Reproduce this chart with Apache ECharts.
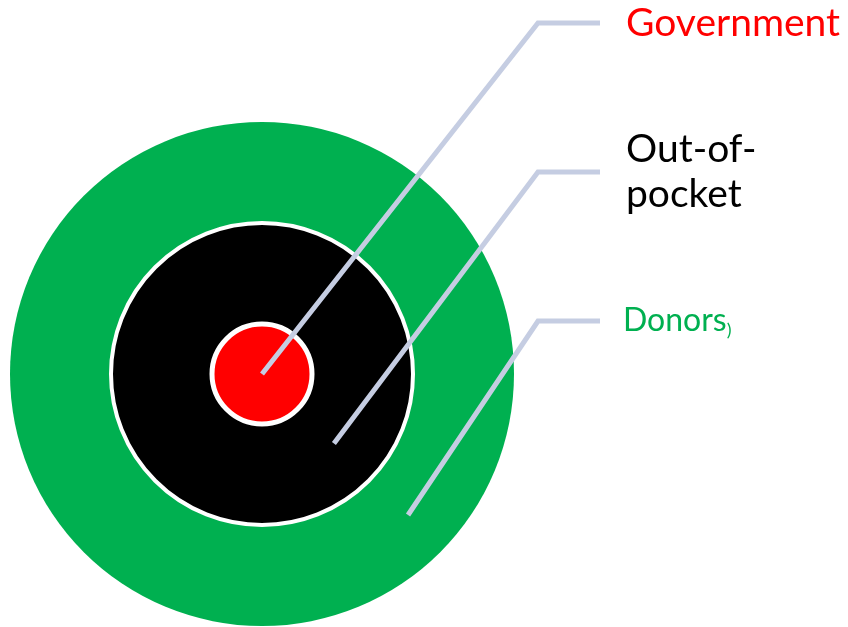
<!DOCTYPE html>
<html>
<head>
<meta charset="utf-8">
<title>Sources of health financing</title>
<script src="https://cdn.jsdelivr.net/npm/echarts@6/dist/echarts.min.js"></script>
<style>
  html, body { margin: 0; padding: 0; background: #ffffff; }
  #chart { width: 848px; height: 627px; }
</style>
</head>
<body>
<div id="chart"></div>
<script>
// Financing sources, innermost ring first
const categories = ['Government', 'Out-of-pocket', 'Donors'];
const labelLines = [['Government'], ['Out-of-', 'pocket'], ['Donors']];
const ringShares = [1, 1, 1];

// Layout of the target rings (pixels)
const CENTER = [262, 374];
const RINGS = [
  { inner: 0,   outer: 50,  border: 5, color: '#ff0000' },
  { inner: 0,   outer: 151, border: 4, color: '#000000' },
  { inner: 0,   outer: 252, border: 0, color: '#00b050' }
];
// radius where each leader line starts (inside its ring), angle below horizontal
const LEADER_R = [0, 100, 203];
const LEADER_ANGLE = 44 * Math.PI / 180;
const ELBOW_X = 538;
const ELBOW_Y = [23, 172, 321];
const END_X = 600;
const LABEL_STYLE = [
  { color: '#ff0000', size: 39, gap: 26 },
  { color: '#000000', size: 39, gap: 26 },
  { color: '#00b050', size: 32, gap: 23 }
];
const LEADER_COLOR = '#c5cde2';

const chart = echarts.init(document.getElementById('chart'), null, { renderer: 'canvas' });

// rings: drawn outermost first so inner discs sit on top
const pieSeries = categories.map((name, i) => ({
  type: 'pie',
  name: name,
  center: CENTER,
  radius: [RINGS[i].inner, RINGS[i].outer],
  silent: true,
  z: 10 - i,
  startAngle: 90,
  label: { show: false },
  labelLine: { show: false },
  emphasis: { disabled: true },
  animation: false,
  itemStyle: {
    color: RINGS[i].color,
    borderColor: '#ffffff',
    borderWidth: RINGS[i].border
  },
  data: [{ name: name, value: ringShares[i] }]
})).reverse();

// leader lines with their labels
const lineSeries = categories.map((name, i) => {
  const sx = CENTER[0] + LEADER_R[i] * Math.cos(LEADER_ANGLE);
  const sy = CENTER[1] + LEADER_R[i] * Math.sin(LEADER_ANGLE);
  const st = LABEL_STYLE[i];
  const isDonors = name === 'Donors';
  return {
    type: 'line',
    name: name + ' label',
    z: 20,
    silent: true,
    animation: false,
    symbol: 'none',
    lineStyle: { color: LEADER_COLOR, width: 5, join: 'miter', cap: 'butt' },
    data: [[sx, sy], [ELBOW_X, ELBOW_Y[i]], [END_X, ELBOW_Y[i]]],
    endLabel: {
      show: true,
      distance: st.gap,
      align: 'left',
      verticalAlign: 'middle',
      color: st.color,
      fontFamily: 'Lato',
      fontSize: st.size,
      lineHeight: 45,
      formatter: () => isDonors
        ? '{d|' + labelLines[i][0] + '}{p|)}'
        : labelLines[i].join('\n'),
      rich: {
        d: { fontFamily: 'Lato', fontSize: st.size, color: st.color, lineHeight: 36 },
        p: { fontFamily: 'Lato', fontSize: 18, color: st.color, lineHeight: 26, verticalAlign: 'bottom' }
      }
    }
  };
});

chart.setOption({
  backgroundColor: '#ffffff',
  animation: false,
  grid: { left: 0, right: 0, top: 0, bottom: 0 },
  xAxis: { type: 'value', min: 0, max: 848, show: false },
  yAxis: { type: 'value', min: 0, max: 627, inverse: true, show: false },
  tooltip: { show: false },
  series: pieSeries.concat(lineSeries)
});
</script>
</body>
</html>
